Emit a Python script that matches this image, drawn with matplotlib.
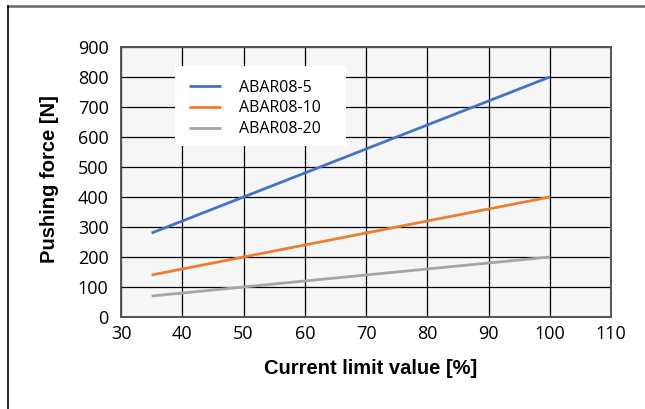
import matplotlib
matplotlib.use("Agg")
import matplotlib.pyplot as plt
from matplotlib.lines import Line2D
from matplotlib.patches import Rectangle

# data
current = [35, 100]
abar08_5 = [280, 800]
abar08_10 = [140, 400]
abar08_20 = [70, 200]
labels = ["ABAR08-5", "ABAR08-10", "ABAR08-20"]
colors = ["#4472C4", "#ED7D31", "#A5A5A5"]
xticks = [30, 40, 50, 60, 70, 80, 90, 100, 110]
yticks = [0, 100, 200, 300, 400, 500, 600, 700, 800, 900]

W, H = 645, 409
AX_L, AX_R, AX_T, AX_B = 121, 611, 47, 317
aw, ah = AX_R - AX_L, AX_B - AX_T

fig = plt.figure(figsize=(W / 100, H / 100), dpi=100)
ax = fig.add_axes([AX_L / W, 1 - AX_B / H, aw / W, ah / H])
ax.set_facecolor("#F5F6F5")

for ys, lab, col in zip([abar08_5, abar08_10, abar08_20], labels, colors):
    ax.plot(current, ys, color=col, lw=2.0, label=lab, solid_capstyle="butt")

ax.set_xlim(30, 110)
ax.set_ylim(0, 900)
ax.set_xticks(xticks)
ax.set_yticks(yticks)
ax.grid(True, color="black", lw=0.9)
ax.set_axisbelow(True)
for s in ax.spines.values():
    s.set_color("#555555")
    s.set_linewidth(1.4)
ax.tick_params(length=0, labelsize=13, pad=9, axis="y")
ax.tick_params(length=0, labelsize=13, pad=6, axis="x")
for t in ax.get_xticklabels() + ax.get_yticklabels():
    t.set_fontfamily("Open Sans")

ax.set_xlabel("Current limit value [%]", fontsize=14.5, fontweight="bold",
              family="Liberation Sans", va="center")
ax.set_ylabel("Pushing force [N]", fontsize=14.5, fontweight="bold",
              family="Liberation Sans", va="center")
ax.xaxis.set_label_coords((371 - AX_L) / aw, (AX_B - 369) / ah)
ax.yaxis.set_label_coords((49 - AX_L) / aw, (AX_B - 179.5) / ah)

# white legend box
ax.add_patch(Rectangle(((175 - AX_L) / aw, (AX_B - 146) / ah), (346 - 175) / aw, (146 - 66) / ah,
                       transform=ax.transAxes, facecolor="white", edgecolor="none", zorder=1))
leg = ax.legend(loc="upper left", bbox_to_anchor=((175 - AX_L) / aw, (AX_B - 66) / ah),
                frameon=False, prop={"family": "Open Sans", "size": 11.5},
                handlelength=2.05, handletextpad=1.1, borderpad=0.85,
                labelspacing=0.3, borderaxespad=0)

# frame lines around the figure
fig.add_artist(Line2D([8 / W, 1], [1 - 5.5 / H, 1 - 5.5 / H], color="#666666", lw=1.8))
fig.add_artist(Line2D([8 / W, 8 / W], [0, 1 - 5.5 / H], color="black", lw=1.2))

fig.savefig("out.png", dpi=100)
